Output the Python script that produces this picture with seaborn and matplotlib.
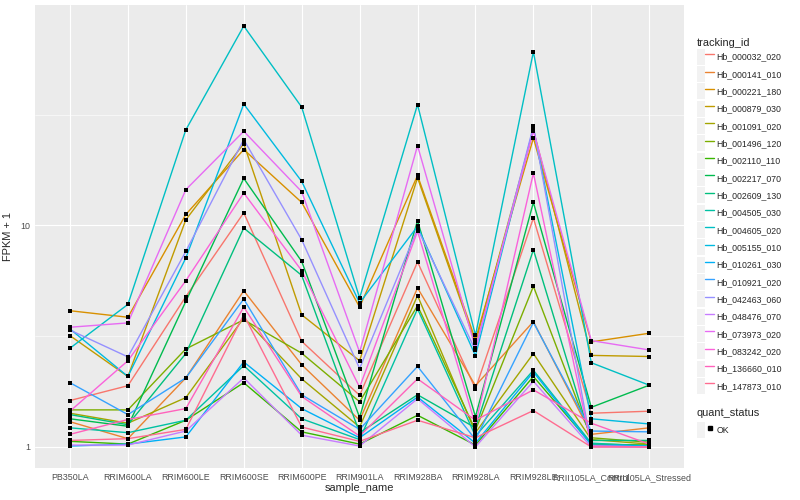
import numpy as np
import pandas as pd
import matplotlib
matplotlib.use("Agg")
import matplotlib.pyplot as plt
from matplotlib.lines import Line2D
from matplotlib.patches import Patch
from matplotlib.legend_handler import HandlerTuple
from matplotlib.ticker import FixedLocator, NullFormatter
import seaborn as sns

samples = ["PB350LA", "RRIM600LA", "RRIM600LE", "RRIM600SE", "RRIM600PE", "RRIM901LA",
           "RRIM928BA", "RRIM928LA", "RRIM928LE", "RRII105LA_Control", "RRII105LA_Stressed"]

tracking_ids = ["Hb_000032_020", "Hb_000141_010", "Hb_000221_180", "Hb_000879_030",
                "Hb_001091_020", "Hb_001496_120", "Hb_002110_110", "Hb_002217_070",
                "Hb_002609_130", "Hb_004505_030", "Hb_004605_020", "Hb_005155_010",
                "Hb_010261_030", "Hb_010921_020", "Hb_042463_060", "Hb_048476_070",
                "Hb_073973_020", "Hb_083242_020", "Hb_136660_010", "Hb_147873_010"]

# ggplot default hue palette for 20 levels
colors = ["#F8766D", "#EA8331", "#D89000", "#C09B00", "#A3A500", "#7CAE00", "#39B600",
          "#00BB4E", "#00BF7D", "#00C1A3", "#00BFC4", "#00BAE0", "#00B0F6", "#35A2FF",
          "#9590FF", "#C77CFF", "#E76BF3", "#FA62DB", "#FF62BC", "#FF6C90"]

# FPKM + 1, one value per sample (same order as samples)
hb_000032_020 = [1.62, 1.89, 4.77, 11.4, 3.00, 1.71, 6.84, 1.83, 10.8, 1.42, 1.45]
hb_000141_010 = [1.30, 1.09, 2.05, 5.07, 2.35, 1.32, 5.22, 1.89, 3.68, 1.14, 1.22]
hb_000221_180 = [4.12, 3.85, 11.2, 22.0, 12.7, 4.28, 16.8, 3.05, 24.8, 2.98, 3.26]
hb_000879_030 = [3.18, 2.08, 10.6, 23.4, 3.95, 2.45, 16.4, 2.95, 27.0, 2.59, 2.56]
hb_001091_020 = [1.42, 1.28, 1.67, 3.82, 2.03, 1.23, 4.82, 1.16, 2.64, 1.08, 1.03]
hb_001496_120 = [1.47, 1.47, 2.77, 3.75, 2.65, 1.60, 4.34, 1.19, 5.31, 1.10, 1.05]
hb_002110_110 = [1.06, 1.03, 1.32, 1.95, 1.17, 1.03, 1.39, 1.02, 2.08, 1.03, 1.02]
hb_002217_070 = [1.34, 1.24, 4.54, 16.3, 6.88, 1.36, 10.5, 1.37, 12.7, 1.51, 1.90]
hb_002609_130 = [1.40, 1.26, 2.64, 9.73, 5.95, 1.16, 1.72, 1.22, 7.77, 1.07, 1.07]
hb_004505_030 = [1.22, 1.16, 1.32, 2.33, 1.34, 1.08, 4.20, 1.12, 2.22, 1.04, 1.01]
hb_004605_020 = [2.79, 4.40, 27.0, 79.4, 34.2, 4.70, 35.1, 3.19, 60.8, 2.40, 1.90]
hb_005155_010 = [3.41, 2.08, 7.13, 35.3, 15.8, 4.47, 9.90, 2.58, 27.5, 1.34, 1.27]
hb_010261_030 = [1.01, 1.03, 1.11, 2.42, 1.49, 1.10, 1.68, 1.04, 2.18, 1.02, 1.01]
hb_010921_020 = [1.95, 1.40, 2.05, 4.65, 1.72, 1.20, 2.31, 1.08, 3.65, 1.18, 1.17]
hb_042463_060 = [3.37, 2.55, 7.63, 24.4, 8.62, 2.26, 9.66, 2.73, 28.0, 1.01, 1.00]
hb_048476_070 = [1.02, 1.02, 1.18, 2.05, 1.13, 1.01, 1.65, 1.00, 1.98, 1.00, 1.00]
hb_073973_020 = [3.47, 3.63, 14.5, 26.6, 14.2, 2.68, 22.9, 2.80, 26.7, 3.02, 2.74]
hb_083242_020 = [1.45, 2.45, 5.63, 14.0, 6.25, 1.86, 9.40, 1.26, 17.2, 1.01, 1.00]
hb_136660_010 = [1.14, 1.33, 1.49, 4.28, 1.69, 1.12, 2.03, 1.32, 1.81, 1.28, 1.03]
hb_147873_010 = [1.07, 1.09, 1.20, 3.95, 1.23, 1.06, 1.32, 1.10, 1.46, 1.00, 1.00]

series = [hb_000032_020, hb_000141_010, hb_000221_180, hb_000879_030, hb_001091_020,
          hb_001496_120, hb_002110_110, hb_002217_070, hb_002609_130, hb_004505_030,
          hb_004605_020, hb_005155_010, hb_010261_030, hb_010921_020, hb_042463_060,
          hb_048476_070, hb_073973_020, hb_083242_020, hb_136660_010, hb_147873_010]

rows = []
for tid, vals in zip(tracking_ids, series):
    for s, v in zip(samples, vals):
        rows.append({"tracking_id": tid, "sample_name": s, "fpkm": v, "quant_status": "OK"})
df = pd.DataFrame(rows)

sns.set_theme(style="darkgrid")
plt.rcParams["font.family"] = ["Liberation Sans", "DejaVu Sans"]

fig = plt.figure(figsize=(8, 5), dpi=100)
ax = fig.add_axes([0.044, 0.064, 0.811, 0.926])

sns.lineplot(data=df, x="sample_name", y="fpkm", hue="tracking_id", hue_order=tracking_ids,
             palette=colors, estimator=None, sort=False, linewidth=1.0, legend=False, ax=ax)
sns.scatterplot(data=df, x="sample_name", y="fpkm", color="black", marker="s", s=10,
                linewidth=0, legend=False, zorder=3, ax=ax)

ax.set_yscale("log")
lo, hi = np.log10(df["fpkm"].min()), np.log10(df["fpkm"].max())
pad = (hi - lo) * 0.05
ax.set_ylim(10 ** (lo - pad), 10 ** (hi + pad))
ax.set_xlim(-0.6, len(samples) - 0.4)

ax.yaxis.set_major_locator(FixedLocator([1, 10]))
ax.set_yticklabels(["1", "10"])
ax.yaxis.set_minor_locator(FixedLocator([10 ** 0.5, 10 ** 1.5]))
ax.yaxis.set_minor_formatter(NullFormatter())

ax.set_facecolor("#EBEBEB")
for sp in ax.spines.values():
    sp.set_visible(False)
ax.grid(which="major", color="white", linewidth=0.8)
ax.grid(which="minor", axis="y", color="white", linewidth=0.4)
ax.set_axisbelow(True)
ax.tick_params(which="major", length=2.0, width=0.8, color="#333333",
               labelsize=6.4, labelcolor="#4D4D4D", pad=1.5)
ax.tick_params(which="minor", length=0)

ax.set_xlabel("sample_name", fontsize=7.9, labelpad=1)
ax.set_ylabel("FPKM + 1", fontsize=7.9, labelpad=5)

# legends in ggplot style (grey key boxes)
key_bg = "#F2F2F2"
handles = [(Patch(facecolor=key_bg, edgecolor="none"),
            Line2D([], [], color=c, linewidth=1.0)) for c in colors]
leg1 = fig.legend(handles, tracking_ids, loc="upper left", bbox_to_anchor=(0.871, 0.925),
                  frameon=False, fontsize=6.34, title="tracking_id", title_fontsize=7.9,
                  handler_map={tuple: HandlerTuple(ndivide=None, pad=0)},
                  handlelength=1.95, handleheight=2.42, labelspacing=0.15,
                  handletextpad=0.25, borderpad=0, borderaxespad=0, alignment="left")
qhandle = [(Patch(facecolor=key_bg, edgecolor="none"),
            Line2D([], [], color="black", marker="s", markersize=2.6, linestyle="none"))]
leg2 = fig.legend(qhandle, ["OK"], loc="upper left", bbox_to_anchor=(0.871, 0.184),
                  frameon=False, fontsize=6.34, title="quant_status", title_fontsize=7.9,
                  handler_map={tuple: HandlerTuple(ndivide=None, pad=0)},
                  handlelength=1.95, handleheight=2.42, handletextpad=0.25,
                  borderpad=0, borderaxespad=0, alignment="left")

fig.savefig("out.png", dpi=100)
